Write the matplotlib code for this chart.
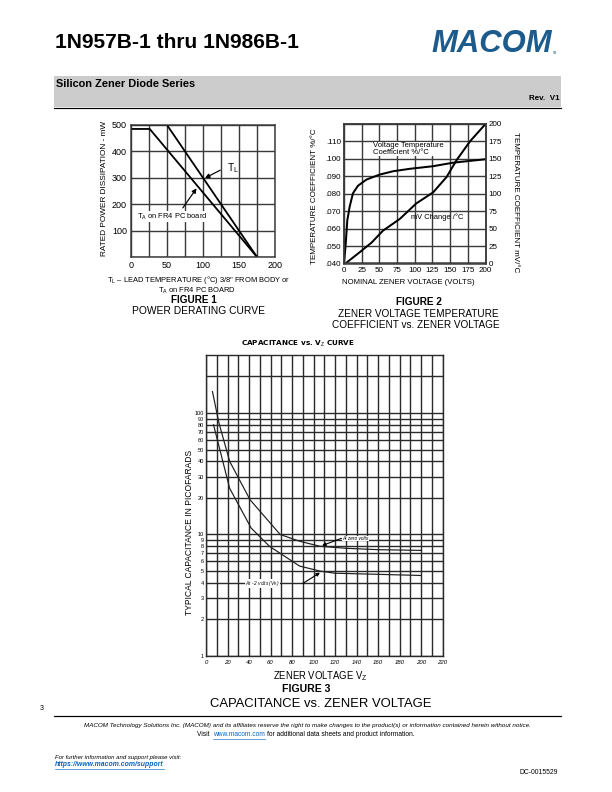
import matplotlib.pyplot as plt
from matplotlib import font_manager
from matplotlib.patches import Rectangle
from matplotlib.lines import Line2D
from matplotlib.ticker import FixedLocator, FixedFormatter, NullFormatter

# Figure 1 - power derating curve
tl_temp = [0, 50, 175]
tl_mw = [500, 500, 0]
ta_temp = [0, 26, 175]
ta_mw = [485, 485, 0]

# Figure 2 - zener voltage temperature coefficient
vtc_v = [0, 2.4, 4.7, 8, 12.7, 19.8, 31.6, 50.5, 69.3, 92.9, 126, 154, 200]
vtc_pct = [.040, .0512, .0648, .0726, .0803, .0846, .0881, .0910, .0929, .0943, .0958, .0978, .0998]
mv_v = [2, 22, 39, 55, 79, 102, 126, 145, 159, 178, 200]
mv_change = [0, 16, 30, 47, 64, 86, 102, 124, 148, 175, 200]

# Figure 3 - capacitance vs zener voltage
c0_v = [6, 12, 22, 41, 69, 87, 106, 130, 160, 200]
c0_pf = [150, 83, 40, 19.3, 10, 8.8, 8.0, 7.7, 7.5, 7.4]
c2_v = [7, 22, 42, 59, 87, 106, 120, 160, 200]
c2_pf = [80, 24, 11.3, 8.0, 5.5, 5.0, 4.8, 4.7, 4.6]
cap_yticks = [1, 2, 3, 4, 5, 6, 7, 8, 9, 10, 20, 30, 40, 50, 60, 70, 80, 90, 100]

plt.rcParams['font.family'] = 'Liberation Sans'
plt.rcParams['mathtext.fontset'] = 'custom'
plt.rcParams['mathtext.rm'] = 'Liberation Sans'
plt.rcParams['mathtext.it'] = 'Liberation Sans:italic'
plt.rcParams['mathtext.bf'] = 'Liberation Sans:bold'

names = {f.name for f in font_manager.fontManager.ttflist}
narrow = 'Liberation Sans Narrow' in names

W, H = 612, 792
fig = plt.figure(figsize=(W / 72, H / 72), dpi=72)
renderer = fig.canvas.get_renderer()


def T(x, y, s, **kw):
    kw.setdefault('va', 'center')
    return fig.text(x / W, 1 - y / H, s, **kw)


def right_edge(t):
    return t.get_window_extent(renderer).x1


def hline(x0, x1, y, **kw):
    fig.add_artist(Line2D([x0 / W, x1 / W], [1 - y / H] * 2, transform=fig.transFigure, **kw))


# ---- page header ----
if narrow:
    T(55, 43, '1N957B-1 thru 1N986B-1', fontsize=25.5, fontweight='bold', family='Liberation Sans Narrow')
else:
    T(55, 43, '1N957B-1 thru 1N986B-1', fontsize=21, fontweight='bold')
t = T(431, 44, 'MACOM', fontsize=31, fontweight='bold', fontstyle='italic', color='#1d5b8c')
T(right_edge(t) + 1, 53, 'TM', fontsize=3, color='#1d5b8c')

fig.add_artist(Rectangle((54 / W, 1 - 107 / H), 507 / W, 31 / H, transform=fig.transFigure,
                         facecolor='#cccccc', edgecolor='none'))
hline(54, 561, 108, color='black', lw=1.2)
band_font = 'Liberation Sans Narrow' if narrow else 'Liberation Sans'
T(56, 84, 'Silicon Zener Diode Series', fontsize=13 if narrow else 11, fontweight='bold', family=band_font)
T(560, 99, 'Rev.  V1', fontsize=9.5 if narrow else 8, fontweight='bold', family=band_font, ha='right')

gcol = '#3a3a3a'

# ---- Figure 1 ----
ax1 = fig.add_axes([131 / W, 1 - 257 / H, 144 / W, 132 / H])
ax1.plot(tl_temp, tl_mw, color='black', lw=1.8, solid_capstyle='butt')
ax1.plot(ta_temp, ta_mw, color='black', lw=1.8, solid_capstyle='butt')
ax1.set_xlim(0, 200)
ax1.set_ylim(0, 500)
ax1.set_xticks(range(0, 201, 25))
ax1.set_xticklabels([str(v) if v % 50 == 0 else '' for v in range(0, 201, 25)])
ax1.set_yticks(range(0, 501, 100))
ax1.set_yticklabels(['', '100', '200', '300', '400', '500'])
ax1.grid(True, color=gcol, lw=1.4)
ax1.set_axisbelow(True)
ax1.tick_params(length=0, labelsize=9, pad=4)
for s in ax1.spines.values():
    s.set_color(gcol)
    s.set_linewidth(1.5)
ax1.text(133, 336, r'T$_{\mathrm{L}}$', fontsize=10, va='center', ha='left')
ax1.annotate('', xy=(102.8, 299), xytext=(124, 329),
             arrowprops=dict(arrowstyle='-|>', color='black', lw=1.2, mutation_scale=9, shrinkA=0, shrinkB=0))
ax1.text(9, 153, r'T$_{\mathrm{A}}$ on FR4 PC board', fontsize=7.5, va='center', ha='left',
         bbox=dict(facecolor='white', edgecolor='none', pad=0.6))
ax1.annotate('', xy=(91, 260), xytext=(72, 186),
             arrowprops=dict(arrowstyle='-|>', color='black', lw=1.2, mutation_scale=9, shrinkA=0, shrinkB=0))

T(105, 188, 'RATED POWER DISSIPATION - mW', fontsize=8.3, rotation=90, ha='center')
T(199, 280, r'T$_{\mathrm{L}}$ – LEAD TEMPERATURE (°C) 3/8" FROM BODY or', fontsize=7.5, ha='center')
T(197, 291, r'T$_{\mathrm{A}}$ on FR4 PC BOARD', fontsize=7.5, ha='center')
T(194, 300, 'FIGURE 1', fontsize=10, fontweight='bold', ha='center')
T(199, 311, 'POWER DERATING CURVE', fontsize=10.3, ha='center')

# ---- Figure 2 ----
ax2 = fig.add_axes([344 / W, 1 - 263.5 / H, 141.5 / W, 139.5 / H])
ax2.plot(vtc_v, vtc_pct, color='black', lw=2)
ax2.set_xlim(0, 200)
ax2.set_ylim(0.04, 0.12)
ax2.set_xticks(range(0, 201, 25))
ax2.set_yticks([0.04 + 0.01 * i for i in range(9)])
ax2.set_yticklabels(['.040', '.050', '.060', '.070', '.080', '.090', '.100', '.110', ''])
ax2.grid(True, color=gcol, lw=1.4)
ax2.set_axisbelow(True)
ax2.tick_params(length=0, labelsize=8, pad=3)
ax2r = ax2.twinx()
ax2r.plot(mv_v, mv_change, color='black', lw=2)
ax2r.set_ylim(0, 200)
ax2r.set_yticks(range(0, 201, 25))
ax2r.tick_params(length=0, labelsize=8, pad=3)
for a in (ax2, ax2r):
    for s in a.spines.values():
        s.set_color(gcol)
        s.set_linewidth(1.5)
ax2.text(41, 0.1057, 'Voltage Temperature\nCoefficient %/°C', fontsize=7.6, ha='left', va='center',
         linespacing=0.95, bbox=dict(facecolor='white', edgecolor='none', pad=0.3))
ax2r.text(95, 66, 'mV Change /°C', fontsize=7.5, ha='left', va='center')

T(315, 196, 'TEMPERATURE COEFFICIENT %/°C', fontsize=8, rotation=90, ha='center')
T(516, 202, 'TEMPERATURE COEFFICIENT mV/°C', fontsize=8, rotation=270, ha='center')
T(408, 283, 'NOMINAL ZENER VOLTAGE (VOLTS)', fontsize=7.8, ha='center')
T(419, 302, 'FIGURE 2', fontsize=10, fontweight='bold', ha='center')
T(418, 314, 'ZENER VOLTAGE TEMPERATURE', fontsize=10, ha='center')
T(416, 325.5, 'COEFFICIENT vs. ZENER VOLTAGE', fontsize=10, ha='center')

# ---- Figure 3 ----
ax3 = fig.add_axes([206 / W, 1 - 656 / H, 236.5 / W, 301 / H])
ax3.set_yscale('log')
ax3.plot(c0_v, c0_pf, color='#202020', lw=1.2)
ax3.plot(c2_v, c2_pf, color='#202020', lw=1.2)
ax3.set_xlim(0, 220)
ax3.set_ylim(1, 300)
ax3.xaxis.set_major_locator(FixedLocator(list(range(0, 221, 20))))
ax3.xaxis.set_minor_locator(FixedLocator(list(range(10, 221, 20))))
ax3.yaxis.set_major_locator(FixedLocator(cap_yticks))
ax3.yaxis.set_major_formatter(FixedFormatter([str(v) for v in cap_yticks]))
ax3.yaxis.set_minor_locator(FixedLocator([200]))
ax3.yaxis.set_minor_formatter(NullFormatter())
ax3.grid(True, which='both', color='#2a2a2a', lw=1.4)
ax3.set_axisbelow(True)
ax3.tick_params(which='both', length=0)
ax3.tick_params(axis='x', labelsize=6, pad=4)
ax3.tick_params(axis='y', labelsize=5.5, pad=2)
for lab in ax3.get_xticklabels():
    lab.set_fontstyle('italic')
for s in ax3.spines.values():
    s.set_color('#2a2a2a')
    s.set_linewidth(1.4)
ax3.text(127, 9.3, 'At zero volts', fontsize=4.8, fontstyle='italic', ha='left', va='center',
         bbox=dict(facecolor='white', edgecolor='none', pad=0.2))
ax3.annotate('', xy=(108, 8.1), xytext=(126, 9.3),
             arrowprops=dict(arrowstyle='-|>', color='black', lw=1.1, mutation_scale=7, shrinkA=0, shrinkB=0))
ax3.text(36, 3.95, r'At - 2 volts (V$_{\mathrm{R}}$)', fontsize=4.8, fontstyle='italic', ha='left', va='center',
         bbox=dict(facecolor='white', edgecolor='none', pad=0.2))
ax3.annotate('', xy=(106, 4.85), xytext=(90, 3.95),
             arrowprops=dict(arrowstyle='-|>', color='black', lw=1.1, mutation_scale=7, shrinkA=0, shrinkB=0))

T(298, 344, r'CAPACITANCE vs. V$_{\mathrm{Z}}$ CURVE', fontsize=7.2, fontweight='bold', ha='center',
  family='DejaVu Sans')
T(189, 532, 'TYPICAL CAPACITANCE IN PICOFARADS', fontsize=8.5, rotation=90, ha='center')
T(320, 676, r'ZENER VOLTAGE V$_{\mathrm{Z}}$', fontsize=9.5, ha='center')
T(306, 689, 'FIGURE 3', fontsize=10.5, fontweight='bold', ha='center')
T(321, 704, 'CAPACITANCE vs. ZENER VOLTAGE', fontsize=13, ha='center')

# ---- footer ----
T(40, 708, '3', fontsize=7)
hline(54, 561, 716, color='black', lw=1.2)
T(307, 726, 'MACOM Technology Solutions Inc. (MACOM) and its affiliates reserve the right to make changes '
            'to the product(s) or information contained herein without notice.',
  fontsize=6.2, fontstyle='italic', ha='center')
t = T(197, 735, 'Visit ', fontsize=6.6, ha='left')
x = right_edge(t) + 1.5
t = T(x, 735, 'www.macom.com', fontsize=6.6, ha='left', color='#0563c1')
x2 = right_edge(t)
hline(x, x2, 738.8, color='#0563c1', lw=0.6)
T(x2 + 2.5, 735, 'for additional data sheets and product information.', fontsize=6.6, ha='left')
T(55, 757, 'For further information and support please visit:', fontsize=6.0, fontstyle='italic', ha='left')
t = T(55, 765, 'https://www.macom.com/support', fontsize=6.9, fontstyle='italic', fontweight='bold',
      color='#0563c1', ha='left')
hline(55, right_edge(t), 768.5, color='#0563c1', lw=0.6)
T(558, 773, 'DC-0015529', fontsize=6.8, ha='right')

fig.savefig('out.png', dpi=72)
